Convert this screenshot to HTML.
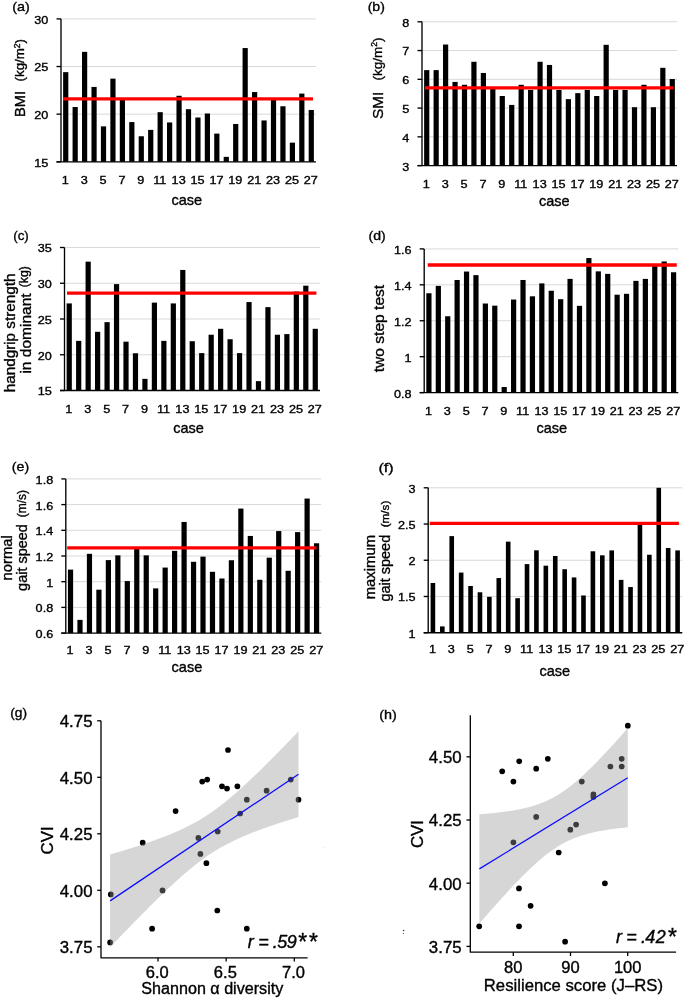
<!DOCTYPE html>
<html><head><meta charset="utf-8"><style>
html,body{margin:0;padding:0;background:#fff;}
body{width:685px;height:999px;overflow:hidden;}
svg{display:block;}
text{font-family:"Liberation Sans", sans-serif;fill:#000;stroke:#000;stroke-width:0.35px;}
.t{filter:grayscale(1);}
</style></head><body>
<svg width="685" height="999" viewBox="0 0 685 999">
<rect width="685" height="999" fill="#fff"/>
<g>
<line x1="61" y1="114.17" x2="316" y2="114.17" stroke="#d9d9d9" stroke-width="1"/>
<line x1="61" y1="66.53" x2="316" y2="66.53" stroke="#d9d9d9" stroke-width="1"/>
<line x1="61" y1="18.9" x2="316" y2="18.9" stroke="#d9d9d9" stroke-width="1"/>
<rect x="63.12" y="72.15" width="5.2" height="89.65" fill="#000"/>
<rect x="72.57" y="107.02" width="5.2" height="54.78" fill="#000"/>
<rect x="82.01" y="51.86" width="5.2" height="109.94" fill="#000"/>
<rect x="91.46" y="86.92" width="5.2" height="74.88" fill="#000"/>
<rect x="100.9" y="126.36" width="5.2" height="35.44" fill="#000"/>
<rect x="110.34" y="78.63" width="5.2" height="83.17" fill="#000"/>
<rect x="119.79" y="99.78" width="5.2" height="62.02" fill="#000"/>
<rect x="129.23" y="122.07" width="5.2" height="39.73" fill="#000"/>
<rect x="138.68" y="136.27" width="5.2" height="25.53" fill="#000"/>
<rect x="148.12" y="129.89" width="5.2" height="31.91" fill="#000"/>
<rect x="157.57" y="112.17" width="5.2" height="49.63" fill="#000"/>
<rect x="167.01" y="122.45" width="5.2" height="39.35" fill="#000"/>
<rect x="176.46" y="95.78" width="5.2" height="66.02" fill="#000"/>
<rect x="185.9" y="109.21" width="5.2" height="52.59" fill="#000"/>
<rect x="195.34" y="117.5" width="5.2" height="44.3" fill="#000"/>
<rect x="204.79" y="113.5" width="5.2" height="48.3" fill="#000"/>
<rect x="214.23" y="133.6" width="5.2" height="28.2" fill="#000"/>
<rect x="223.68" y="156.85" width="5.2" height="4.95" fill="#000"/>
<rect x="233.12" y="123.98" width="5.2" height="37.82" fill="#000"/>
<rect x="242.57" y="48.05" width="5.2" height="113.75" fill="#000"/>
<rect x="252.01" y="92.06" width="5.2" height="69.74" fill="#000"/>
<rect x="261.46" y="120.45" width="5.2" height="41.35" fill="#000"/>
<rect x="270.9" y="99.69" width="5.2" height="62.11" fill="#000"/>
<rect x="280.34" y="106.26" width="5.2" height="55.54" fill="#000"/>
<rect x="289.79" y="142.65" width="5.2" height="19.15" fill="#000"/>
<rect x="299.23" y="93.59" width="5.2" height="68.21" fill="#000"/>
<rect x="308.68" y="109.97" width="5.2" height="51.83" fill="#000"/>
<line x1="61" y1="18.9" x2="61" y2="161.8" stroke="#000" stroke-width="1.35"/>
<line x1="56.5" y1="161.8" x2="316" y2="161.8" stroke="#000" stroke-width="1.35"/>
<line x1="56.5" y1="161.8" x2="61" y2="161.8" stroke="#000" stroke-width="1.35"/>
<line x1="56.5" y1="114.17" x2="61" y2="114.17" stroke="#000" stroke-width="1.35"/>
<line x1="56.5" y1="66.53" x2="61" y2="66.53" stroke="#000" stroke-width="1.35"/>
<line x1="56.5" y1="18.9" x2="61" y2="18.9" stroke="#000" stroke-width="1.35"/>
<line x1="63" y1="98.9" x2="313" y2="98.9" stroke="#ff0000" stroke-width="3.3"/>
</g>
<g>
<line x1="422" y1="136.84" x2="677" y2="136.84" stroke="#d9d9d9" stroke-width="1"/>
<line x1="422" y1="108.08" x2="677" y2="108.08" stroke="#d9d9d9" stroke-width="1"/>
<line x1="422" y1="79.32" x2="677" y2="79.32" stroke="#d9d9d9" stroke-width="1"/>
<line x1="422" y1="50.56" x2="677" y2="50.56" stroke="#d9d9d9" stroke-width="1"/>
<line x1="422" y1="21.8" x2="677" y2="21.8" stroke="#d9d9d9" stroke-width="1"/>
<rect x="424.12" y="70.12" width="5.2" height="95.48" fill="#000"/>
<rect x="433.57" y="70.12" width="5.2" height="95.48" fill="#000"/>
<rect x="443.01" y="44.52" width="5.2" height="121.08" fill="#000"/>
<rect x="452.46" y="81.91" width="5.2" height="83.69" fill="#000"/>
<rect x="461.9" y="84.78" width="5.2" height="80.82" fill="#000"/>
<rect x="471.34" y="61.78" width="5.2" height="103.82" fill="#000"/>
<rect x="480.79" y="72.99" width="5.2" height="92.61" fill="#000"/>
<rect x="490.23" y="88.52" width="5.2" height="77.08" fill="#000"/>
<rect x="499.68" y="96" width="5.2" height="69.6" fill="#000"/>
<rect x="509.12" y="104.92" width="5.2" height="60.68" fill="#000"/>
<rect x="518.57" y="84.78" width="5.2" height="80.82" fill="#000"/>
<rect x="528.01" y="89.96" width="5.2" height="75.64" fill="#000"/>
<rect x="537.46" y="61.78" width="5.2" height="103.82" fill="#000"/>
<rect x="546.9" y="64.94" width="5.2" height="100.66" fill="#000"/>
<rect x="556.34" y="89.96" width="5.2" height="75.64" fill="#000"/>
<rect x="565.79" y="99.16" width="5.2" height="66.44" fill="#000"/>
<rect x="575.23" y="93.12" width="5.2" height="72.48" fill="#000"/>
<rect x="584.68" y="89.96" width="5.2" height="75.64" fill="#000"/>
<rect x="594.12" y="96" width="5.2" height="69.6" fill="#000"/>
<rect x="603.57" y="44.81" width="5.2" height="120.79" fill="#000"/>
<rect x="613.01" y="89.96" width="5.2" height="75.64" fill="#000"/>
<rect x="622.46" y="89.96" width="5.2" height="75.64" fill="#000"/>
<rect x="631.9" y="107.22" width="5.2" height="58.38" fill="#000"/>
<rect x="641.34" y="84.78" width="5.2" height="80.82" fill="#000"/>
<rect x="650.79" y="107.22" width="5.2" height="58.38" fill="#000"/>
<rect x="660.23" y="67.82" width="5.2" height="97.78" fill="#000"/>
<rect x="669.68" y="79.03" width="5.2" height="86.57" fill="#000"/>
<line x1="422" y1="21.8" x2="422" y2="165.6" stroke="#000" stroke-width="1.35"/>
<line x1="417.5" y1="165.6" x2="677" y2="165.6" stroke="#000" stroke-width="1.35"/>
<line x1="417.5" y1="165.6" x2="422" y2="165.6" stroke="#000" stroke-width="1.35"/>
<line x1="417.5" y1="136.84" x2="422" y2="136.84" stroke="#000" stroke-width="1.35"/>
<line x1="417.5" y1="108.08" x2="422" y2="108.08" stroke="#000" stroke-width="1.35"/>
<line x1="417.5" y1="79.32" x2="422" y2="79.32" stroke="#000" stroke-width="1.35"/>
<line x1="417.5" y1="50.56" x2="422" y2="50.56" stroke="#000" stroke-width="1.35"/>
<line x1="417.5" y1="21.8" x2="422" y2="21.8" stroke="#000" stroke-width="1.35"/>
<line x1="425" y1="87.8" x2="673.5" y2="87.8" stroke="#ff0000" stroke-width="3.3"/>
</g>
<g>
<line x1="64.5" y1="354.75" x2="320" y2="354.75" stroke="#d9d9d9" stroke-width="1"/>
<line x1="64.5" y1="319" x2="320" y2="319" stroke="#d9d9d9" stroke-width="1"/>
<line x1="64.5" y1="283.25" x2="320" y2="283.25" stroke="#d9d9d9" stroke-width="1"/>
<line x1="64.5" y1="247.5" x2="320" y2="247.5" stroke="#d9d9d9" stroke-width="1"/>
<rect x="66.63" y="303.41" width="5.2" height="87.09" fill="#000"/>
<rect x="76.09" y="340.88" width="5.2" height="49.62" fill="#000"/>
<rect x="85.56" y="261.66" width="5.2" height="128.84" fill="#000"/>
<rect x="95.02" y="331.8" width="5.2" height="58.7" fill="#000"/>
<rect x="104.48" y="322.15" width="5.2" height="68.35" fill="#000"/>
<rect x="113.95" y="284.11" width="5.2" height="106.39" fill="#000"/>
<rect x="123.41" y="341.67" width="5.2" height="48.83" fill="#000"/>
<rect x="132.87" y="353.25" width="5.2" height="37.25" fill="#000"/>
<rect x="142.34" y="378.85" width="5.2" height="11.65" fill="#000"/>
<rect x="151.8" y="302.63" width="5.2" height="87.87" fill="#000"/>
<rect x="161.26" y="340.88" width="5.2" height="49.62" fill="#000"/>
<rect x="170.72" y="303.41" width="5.2" height="87.09" fill="#000"/>
<rect x="180.19" y="269.95" width="5.2" height="120.55" fill="#000"/>
<rect x="189.65" y="341.24" width="5.2" height="49.26" fill="#000"/>
<rect x="199.11" y="353.11" width="5.2" height="37.39" fill="#000"/>
<rect x="208.58" y="334.73" width="5.2" height="55.77" fill="#000"/>
<rect x="218.04" y="328.8" width="5.2" height="61.7" fill="#000"/>
<rect x="227.5" y="339.23" width="5.2" height="51.27" fill="#000"/>
<rect x="236.96" y="353.11" width="5.2" height="37.39" fill="#000"/>
<rect x="246.43" y="302.05" width="5.2" height="88.45" fill="#000"/>
<rect x="255.89" y="381.13" width="5.2" height="9.37" fill="#000"/>
<rect x="265.35" y="307.13" width="5.2" height="83.37" fill="#000"/>
<rect x="274.82" y="334.73" width="5.2" height="55.77" fill="#000"/>
<rect x="284.28" y="334.09" width="5.2" height="56.41" fill="#000"/>
<rect x="293.74" y="291.62" width="5.2" height="98.88" fill="#000"/>
<rect x="303.21" y="285.68" width="5.2" height="104.82" fill="#000"/>
<rect x="312.67" y="328.8" width="5.2" height="61.7" fill="#000"/>
<line x1="64.5" y1="247.5" x2="64.5" y2="390.5" stroke="#000" stroke-width="1.35"/>
<line x1="60" y1="390.5" x2="320" y2="390.5" stroke="#000" stroke-width="1.35"/>
<line x1="60" y1="390.5" x2="64.5" y2="390.5" stroke="#000" stroke-width="1.35"/>
<line x1="60" y1="354.75" x2="64.5" y2="354.75" stroke="#000" stroke-width="1.35"/>
<line x1="60" y1="319" x2="64.5" y2="319" stroke="#000" stroke-width="1.35"/>
<line x1="60" y1="283.25" x2="64.5" y2="283.25" stroke="#000" stroke-width="1.35"/>
<line x1="60" y1="247.5" x2="64.5" y2="247.5" stroke="#000" stroke-width="1.35"/>
<line x1="67" y1="293.2" x2="316.4" y2="293.2" stroke="#ff0000" stroke-width="3.3"/>
</g>
<g>
<line x1="424.2" y1="356.68" x2="678.3" y2="356.68" stroke="#d9d9d9" stroke-width="1"/>
<line x1="424.2" y1="320.75" x2="678.3" y2="320.75" stroke="#d9d9d9" stroke-width="1"/>
<line x1="424.2" y1="284.83" x2="678.3" y2="284.83" stroke="#d9d9d9" stroke-width="1"/>
<line x1="424.2" y1="248.9" x2="678.3" y2="248.9" stroke="#d9d9d9" stroke-width="1"/>
<rect x="426.31" y="293.27" width="5.2" height="99.33" fill="#000"/>
<rect x="435.72" y="285.9" width="5.2" height="106.7" fill="#000"/>
<rect x="445.13" y="316.26" width="5.2" height="76.34" fill="#000"/>
<rect x="454.54" y="279.98" width="5.2" height="112.62" fill="#000"/>
<rect x="463.95" y="271.53" width="5.2" height="121.07" fill="#000"/>
<rect x="473.36" y="275.13" width="5.2" height="117.47" fill="#000"/>
<rect x="482.77" y="303.51" width="5.2" height="89.09" fill="#000"/>
<rect x="492.18" y="305.66" width="5.2" height="86.94" fill="#000"/>
<rect x="501.59" y="387.03" width="5.2" height="5.57" fill="#000"/>
<rect x="511.01" y="299.55" width="5.2" height="93.05" fill="#000"/>
<rect x="520.42" y="279.98" width="5.2" height="112.62" fill="#000"/>
<rect x="529.83" y="296.32" width="5.2" height="96.28" fill="#000"/>
<rect x="539.24" y="283.39" width="5.2" height="109.21" fill="#000"/>
<rect x="548.65" y="290.75" width="5.2" height="101.85" fill="#000"/>
<rect x="558.06" y="299.19" width="5.2" height="93.41" fill="#000"/>
<rect x="567.47" y="278.9" width="5.2" height="113.7" fill="#000"/>
<rect x="576.88" y="305.84" width="5.2" height="86.76" fill="#000"/>
<rect x="586.29" y="258.06" width="5.2" height="134.54" fill="#000"/>
<rect x="595.71" y="271.35" width="5.2" height="121.25" fill="#000"/>
<rect x="605.12" y="273.87" width="5.2" height="118.73" fill="#000"/>
<rect x="614.53" y="294.7" width="5.2" height="97.9" fill="#000"/>
<rect x="623.94" y="293.81" width="5.2" height="98.79" fill="#000"/>
<rect x="633.35" y="280.87" width="5.2" height="111.73" fill="#000"/>
<rect x="642.76" y="278.9" width="5.2" height="113.7" fill="#000"/>
<rect x="652.17" y="263.99" width="5.2" height="128.61" fill="#000"/>
<rect x="661.58" y="261.47" width="5.2" height="131.13" fill="#000"/>
<rect x="670.99" y="272.25" width="5.2" height="120.35" fill="#000"/>
<line x1="424.2" y1="248.9" x2="424.2" y2="392.6" stroke="#000" stroke-width="1.35"/>
<line x1="419.7" y1="392.6" x2="678.3" y2="392.6" stroke="#000" stroke-width="1.35"/>
<line x1="419.7" y1="392.6" x2="424.2" y2="392.6" stroke="#000" stroke-width="1.35"/>
<line x1="419.7" y1="356.68" x2="424.2" y2="356.68" stroke="#000" stroke-width="1.35"/>
<line x1="419.7" y1="320.75" x2="424.2" y2="320.75" stroke="#000" stroke-width="1.35"/>
<line x1="419.7" y1="284.83" x2="424.2" y2="284.83" stroke="#000" stroke-width="1.35"/>
<line x1="419.7" y1="248.9" x2="424.2" y2="248.9" stroke="#000" stroke-width="1.35"/>
<line x1="427.7" y1="265" x2="676.8" y2="265" stroke="#ff0000" stroke-width="3.3"/>
</g>
<g>
<line x1="65.8" y1="607.4" x2="321.3" y2="607.4" stroke="#d9d9d9" stroke-width="1"/>
<line x1="65.8" y1="581.7" x2="321.3" y2="581.7" stroke="#d9d9d9" stroke-width="1"/>
<line x1="65.8" y1="556" x2="321.3" y2="556" stroke="#d9d9d9" stroke-width="1"/>
<line x1="65.8" y1="530.3" x2="321.3" y2="530.3" stroke="#d9d9d9" stroke-width="1"/>
<line x1="65.8" y1="504.6" x2="321.3" y2="504.6" stroke="#d9d9d9" stroke-width="1"/>
<line x1="65.8" y1="478.9" x2="321.3" y2="478.9" stroke="#d9d9d9" stroke-width="1"/>
<rect x="67.93" y="569.62" width="5.2" height="63.48" fill="#000"/>
<rect x="77.39" y="619.86" width="5.2" height="13.24" fill="#000"/>
<rect x="86.86" y="553.82" width="5.2" height="79.28" fill="#000"/>
<rect x="96.32" y="589.67" width="5.2" height="43.43" fill="#000"/>
<rect x="105.78" y="560.11" width="5.2" height="72.99" fill="#000"/>
<rect x="115.25" y="555.36" width="5.2" height="77.74" fill="#000"/>
<rect x="124.71" y="581.06" width="5.2" height="52.04" fill="#000"/>
<rect x="134.17" y="548.93" width="5.2" height="84.17" fill="#000"/>
<rect x="143.64" y="555.36" width="5.2" height="77.74" fill="#000"/>
<rect x="153.1" y="588.38" width="5.2" height="44.72" fill="#000"/>
<rect x="162.56" y="567.57" width="5.2" height="65.53" fill="#000"/>
<rect x="172.02" y="550.86" width="5.2" height="82.24" fill="#000"/>
<rect x="181.49" y="521.95" width="5.2" height="111.15" fill="#000"/>
<rect x="190.95" y="561.78" width="5.2" height="71.32" fill="#000"/>
<rect x="200.41" y="556.64" width="5.2" height="76.46" fill="#000"/>
<rect x="209.88" y="571.81" width="5.2" height="61.29" fill="#000"/>
<rect x="219.34" y="578.49" width="5.2" height="54.61" fill="#000"/>
<rect x="228.8" y="560.24" width="5.2" height="72.86" fill="#000"/>
<rect x="238.26" y="508.58" width="5.2" height="124.52" fill="#000"/>
<rect x="247.73" y="535.95" width="5.2" height="97.15" fill="#000"/>
<rect x="257.19" y="579.77" width="5.2" height="53.33" fill="#000"/>
<rect x="266.65" y="557.67" width="5.2" height="75.43" fill="#000"/>
<rect x="276.12" y="531.07" width="5.2" height="102.03" fill="#000"/>
<rect x="285.58" y="570.78" width="5.2" height="62.32" fill="#000"/>
<rect x="295.04" y="532.1" width="5.2" height="101" fill="#000"/>
<rect x="304.51" y="498.56" width="5.2" height="134.54" fill="#000"/>
<rect x="313.97" y="543.28" width="5.2" height="89.82" fill="#000"/>
<line x1="65.8" y1="478.9" x2="65.8" y2="633.1" stroke="#000" stroke-width="1.35"/>
<line x1="61.3" y1="633.1" x2="321.3" y2="633.1" stroke="#000" stroke-width="1.35"/>
<line x1="61.3" y1="633.1" x2="65.8" y2="633.1" stroke="#000" stroke-width="1.35"/>
<line x1="61.3" y1="607.4" x2="65.8" y2="607.4" stroke="#000" stroke-width="1.35"/>
<line x1="61.3" y1="581.7" x2="65.8" y2="581.7" stroke="#000" stroke-width="1.35"/>
<line x1="61.3" y1="556" x2="65.8" y2="556" stroke="#000" stroke-width="1.35"/>
<line x1="61.3" y1="530.3" x2="65.8" y2="530.3" stroke="#000" stroke-width="1.35"/>
<line x1="61.3" y1="504.6" x2="65.8" y2="504.6" stroke="#000" stroke-width="1.35"/>
<line x1="61.3" y1="478.9" x2="65.8" y2="478.9" stroke="#000" stroke-width="1.35"/>
<line x1="67.2" y1="547.8" x2="316.4" y2="547.8" stroke="#ff0000" stroke-width="3.3"/>
</g>
<g>
<line x1="428.2" y1="596.48" x2="682.3" y2="596.48" stroke="#d9d9d9" stroke-width="1"/>
<line x1="428.2" y1="560.25" x2="682.3" y2="560.25" stroke="#d9d9d9" stroke-width="1"/>
<line x1="428.2" y1="524.02" x2="682.3" y2="524.02" stroke="#d9d9d9" stroke-width="1"/>
<line x1="428.2" y1="487.8" x2="682.3" y2="487.8" stroke="#d9d9d9" stroke-width="1"/>
<rect x="430.61" y="583" width="4.6" height="49.7" fill="#000"/>
<rect x="440.02" y="626.4" width="4.6" height="6.3" fill="#000"/>
<rect x="449.43" y="536.12" width="4.6" height="96.58" fill="#000"/>
<rect x="458.84" y="572.57" width="4.6" height="60.13" fill="#000"/>
<rect x="468.25" y="585.97" width="4.6" height="46.73" fill="#000"/>
<rect x="477.66" y="592.27" width="4.6" height="40.43" fill="#000"/>
<rect x="487.07" y="596.84" width="4.6" height="35.86" fill="#000"/>
<rect x="496.48" y="578.07" width="4.6" height="54.63" fill="#000"/>
<rect x="505.89" y="541.63" width="4.6" height="91.07" fill="#000"/>
<rect x="515.31" y="598.21" width="4.6" height="34.49" fill="#000"/>
<rect x="524.72" y="564.09" width="4.6" height="68.61" fill="#000"/>
<rect x="534.13" y="550.32" width="4.6" height="82.38" fill="#000"/>
<rect x="543.54" y="565.68" width="4.6" height="67.02" fill="#000"/>
<rect x="552.95" y="555.98" width="4.6" height="76.72" fill="#000"/>
<rect x="562.36" y="569.23" width="4.6" height="63.47" fill="#000"/>
<rect x="571.77" y="577.42" width="4.6" height="55.28" fill="#000"/>
<rect x="581.18" y="595.46" width="4.6" height="37.24" fill="#000"/>
<rect x="590.59" y="551.27" width="4.6" height="81.43" fill="#000"/>
<rect x="600.01" y="555.32" width="4.6" height="77.38" fill="#000"/>
<rect x="609.42" y="550.4" width="4.6" height="82.3" fill="#000"/>
<rect x="618.83" y="579.88" width="4.6" height="52.82" fill="#000"/>
<rect x="628.24" y="587.06" width="4.6" height="45.64" fill="#000"/>
<rect x="637.65" y="523.81" width="4.6" height="108.89" fill="#000"/>
<rect x="647.06" y="554.74" width="4.6" height="77.96" fill="#000"/>
<rect x="656.47" y="487.8" width="4.6" height="144.9" fill="#000"/>
<rect x="665.88" y="548.01" width="4.6" height="84.69" fill="#000"/>
<rect x="675.29" y="550.4" width="4.6" height="82.3" fill="#000"/>
<line x1="428.2" y1="487.8" x2="428.2" y2="632.7" stroke="#000" stroke-width="1.35"/>
<line x1="423.7" y1="632.7" x2="682.3" y2="632.7" stroke="#000" stroke-width="1.35"/>
<line x1="423.7" y1="632.7" x2="428.2" y2="632.7" stroke="#000" stroke-width="1.35"/>
<line x1="423.7" y1="596.48" x2="428.2" y2="596.48" stroke="#000" stroke-width="1.35"/>
<line x1="423.7" y1="560.25" x2="428.2" y2="560.25" stroke="#000" stroke-width="1.35"/>
<line x1="423.7" y1="524.02" x2="428.2" y2="524.02" stroke="#000" stroke-width="1.35"/>
<line x1="423.7" y1="487.8" x2="428.2" y2="487.8" stroke="#000" stroke-width="1.35"/>
<line x1="429.8" y1="523.3" x2="678.9" y2="523.3" stroke="#ff0000" stroke-width="3.3"/>
</g>
<circle cx="142.7" cy="842.7" r="2.85" fill="#000"/>
<circle cx="175.6" cy="811.1" r="2.85" fill="#000"/>
<circle cx="198.35" cy="837.9" r="2.85" fill="#000"/>
<circle cx="200.4" cy="853.9" r="2.85" fill="#000"/>
<circle cx="206.4" cy="863.2" r="2.85" fill="#000"/>
<circle cx="202.2" cy="781.6" r="2.85" fill="#000"/>
<circle cx="207.2" cy="779.6" r="2.85" fill="#000"/>
<circle cx="217.7" cy="831.5" r="2.85" fill="#000"/>
<circle cx="222" cy="786.3" r="2.85" fill="#000"/>
<circle cx="227" cy="788.6" r="2.85" fill="#000"/>
<circle cx="228" cy="750" r="2.85" fill="#000"/>
<circle cx="237.4" cy="786.3" r="2.85" fill="#000"/>
<circle cx="240.1" cy="813.5" r="2.85" fill="#000"/>
<circle cx="246.8" cy="799.7" r="2.85" fill="#000"/>
<circle cx="266.6" cy="790.7" r="2.85" fill="#000"/>
<circle cx="290.8" cy="779.6" r="2.85" fill="#000"/>
<circle cx="298.5" cy="799.7" r="2.85" fill="#000"/>
<circle cx="110.8" cy="894.4" r="2.85" fill="#000"/>
<circle cx="110.1" cy="942.4" r="2.85" fill="#000"/>
<circle cx="152.1" cy="928.7" r="2.85" fill="#000"/>
<circle cx="162.5" cy="890.4" r="2.85" fill="#000"/>
<circle cx="217.3" cy="910.5" r="2.85" fill="#000"/>
<circle cx="246.8" cy="928.7" r="2.85" fill="#000"/>
<polygon points="110.1,854.47 112.48,853.77 114.87,853.06 117.25,852.35 119.64,851.63 122.02,850.91 124.41,850.18 126.79,849.44 129.18,848.7 131.56,847.95 133.95,847.2 136.33,846.43 138.72,845.66 141.1,844.88 143.49,844.09 145.87,843.29 148.26,842.47 150.64,841.65 153.03,840.81 155.41,839.96 157.8,839.09 160.18,838.21 162.57,837.31 164.95,836.39 167.34,835.46 169.72,834.5 172.11,833.51 174.49,832.51 176.87,831.47 179.26,830.41 181.64,829.31 184.03,828.19 186.41,827.03 188.8,825.83 191.18,824.59 193.57,823.31 195.95,821.99 198.34,820.63 200.72,819.22 203.11,817.76 205.49,816.25 207.88,814.7 210.26,813.1 212.65,811.44 215.03,809.74 217.42,807.99 219.8,806.19 222.19,804.35 224.57,802.46 226.96,800.53 229.34,798.56 231.73,796.55 234.11,794.5 236.49,792.42 238.88,790.31 241.26,788.16 243.65,785.99 246.03,783.79 248.42,781.57 250.8,779.32 253.19,777.05 255.57,774.76 257.96,772.45 260.34,770.13 262.73,767.79 265.11,765.43 267.5,763.06 269.88,760.68 272.27,758.29 274.65,755.88 277.04,753.47 279.42,751.04 281.81,748.61 284.19,746.16 286.58,743.71 288.96,741.26 291.35,738.79 293.73,736.32 296.12,733.84 298.5,731.36 298.5,817.12 296.12,817.84 293.73,818.57 291.35,819.31 288.96,820.05 286.58,820.8 284.19,821.55 281.81,822.31 279.42,823.09 277.04,823.87 274.65,824.66 272.27,825.46 269.88,826.27 267.5,827.09 265.11,827.93 262.73,828.78 260.34,829.65 257.96,830.53 255.57,831.43 253.19,832.35 250.8,833.28 248.42,834.24 246.03,835.22 243.65,836.23 241.26,837.26 238.88,838.33 236.49,839.42 234.11,840.54 231.73,841.7 229.34,842.9 226.96,844.13 224.57,845.41 222.19,846.73 219.8,848.09 217.42,849.5 215.03,850.95 212.65,852.46 210.26,854.01 207.88,855.61 205.49,857.26 203.11,858.96 200.72,860.71 198.34,862.51 195.95,864.35 193.57,866.24 191.18,868.16 188.8,870.13 186.41,872.14 184.03,874.19 181.64,876.27 179.26,878.38 176.87,880.52 174.49,882.69 172.11,884.89 169.72,887.11 167.34,889.36 164.95,891.63 162.57,893.92 160.18,896.22 157.8,898.55 155.41,900.89 153.03,903.24 150.64,905.61 148.26,907.99 145.87,910.39 143.49,912.79 141.1,915.21 138.72,917.63 136.33,920.06 133.95,922.51 131.56,924.96 129.18,927.41 126.79,929.88 124.41,932.35 122.02,934.83 119.64,937.31 117.25,939.8 114.87,942.29 112.48,944.79 110.1,947.29" fill="#999" fill-opacity="0.4"/>
<line x1="110.1" y1="900.88" x2="298.5" y2="774.24" stroke="#0a0aff" stroke-width="1.25"/>
<path d="M101 720.8 V957.8 H307.6" fill="none" stroke="#000" stroke-width="1.3" stroke-linejoin="round"/>
<line x1="97.2" y1="720.8" x2="101" y2="720.8" stroke="#000" stroke-width="1.3"/>
<line x1="97.2" y1="777.3" x2="101" y2="777.3" stroke="#000" stroke-width="1.3"/>
<line x1="97.2" y1="833.8" x2="101" y2="833.8" stroke="#000" stroke-width="1.3"/>
<line x1="97.2" y1="890.3" x2="101" y2="890.3" stroke="#000" stroke-width="1.3"/>
<line x1="97.2" y1="946.8" x2="101" y2="946.8" stroke="#000" stroke-width="1.3"/>
<line x1="158" y1="957.8" x2="158" y2="961.6" stroke="#000" stroke-width="1.3"/>
<line x1="226.15" y1="957.8" x2="226.15" y2="961.6" stroke="#000" stroke-width="1.3"/>
<line x1="294.3" y1="957.8" x2="294.3" y2="961.6" stroke="#000" stroke-width="1.3"/>
<circle cx="502.2" cy="771.3" r="2.85" fill="#000"/>
<circle cx="513.4" cy="781.6" r="2.85" fill="#000"/>
<circle cx="519.2" cy="761.3" r="2.85" fill="#000"/>
<circle cx="536.2" cy="768.7" r="2.85" fill="#000"/>
<circle cx="547.8" cy="758.8" r="2.85" fill="#000"/>
<circle cx="513.4" cy="842.3" r="2.85" fill="#000"/>
<circle cx="536.2" cy="816.9" r="2.85" fill="#000"/>
<circle cx="558.7" cy="852.5" r="2.85" fill="#000"/>
<circle cx="570.3" cy="829.7" r="2.85" fill="#000"/>
<circle cx="576.1" cy="824.6" r="2.85" fill="#000"/>
<circle cx="581.8" cy="781.6" r="2.85" fill="#000"/>
<circle cx="593.4" cy="794.4" r="2.85" fill="#000"/>
<circle cx="593.4" cy="797" r="2.85" fill="#000"/>
<circle cx="610.4" cy="766.5" r="2.85" fill="#000"/>
<circle cx="621.7" cy="758.8" r="2.85" fill="#000"/>
<circle cx="621.7" cy="766.5" r="2.85" fill="#000"/>
<circle cx="627.8" cy="725.7" r="2.85" fill="#000"/>
<circle cx="479.2" cy="926.3" r="2.85" fill="#000"/>
<circle cx="519" cy="888.4" r="2.85" fill="#000"/>
<circle cx="530.6" cy="905.8" r="2.85" fill="#000"/>
<circle cx="519" cy="926.3" r="2.85" fill="#000"/>
<circle cx="604.9" cy="883.3" r="2.85" fill="#000"/>
<circle cx="565.1" cy="941.7" r="2.85" fill="#000"/>
<polygon points="479.4,814.31 481.28,814.16 483.16,814.01 485.04,813.85 486.91,813.69 488.79,813.52 490.67,813.34 492.55,813.15 494.43,812.96 496.31,812.75 498.18,812.54 500.06,812.32 501.94,812.09 503.82,811.84 505.7,811.59 507.58,811.32 509.46,811.04 511.33,810.74 513.21,810.43 515.09,810.11 516.97,809.76 518.85,809.4 520.73,809.02 522.61,808.61 524.48,808.19 526.36,807.74 528.24,807.26 530.12,806.76 532,806.22 533.88,805.66 535.75,805.06 537.63,804.43 539.51,803.76 541.39,803.05 543.27,802.3 545.15,801.51 547.03,800.68 548.9,799.8 550.78,798.87 552.66,797.89 554.54,796.86 556.42,795.79 558.3,794.66 560.17,793.48 562.05,792.25 563.93,790.98 565.81,789.65 567.69,788.27 569.57,786.85 571.45,785.38 573.32,783.86 575.2,782.31 577.08,780.71 578.96,779.07 580.84,777.4 582.72,775.69 584.59,773.95 586.47,772.18 588.35,770.37 590.23,768.54 592.11,766.69 593.99,764.81 595.87,762.91 597.74,760.98 599.62,759.04 601.5,757.08 603.38,755.1 605.26,753.1 607.14,751.09 609.02,749.07 610.89,747.03 612.77,744.98 614.65,742.91 616.53,740.84 618.41,738.75 620.29,736.66 622.16,734.56 624.04,732.44 625.92,730.32 627.8,728.2 627.8,827.36 625.92,827.54 624.04,827.72 622.16,827.92 620.29,828.12 618.41,828.34 616.53,828.56 614.65,828.79 612.77,829.03 610.89,829.29 609.02,829.56 607.14,829.84 605.26,830.13 603.38,830.45 601.5,830.77 599.62,831.12 597.74,831.48 595.87,831.86 593.99,832.27 592.11,832.7 590.23,833.15 588.35,833.62 586.47,834.13 584.59,834.66 582.72,835.23 580.84,835.83 578.96,836.46 577.08,837.13 575.2,837.84 573.32,838.59 571.45,839.38 569.57,840.22 567.69,841.1 565.81,842.03 563.93,843.01 562.05,844.04 560.17,845.12 558.3,846.25 556.42,847.42 554.54,848.66 552.66,849.94 550.78,851.27 548.9,852.64 547.03,854.07 545.15,855.54 543.27,857.06 541.39,858.61 539.51,860.21 537.63,861.85 535.75,863.53 533.88,865.23 532,866.98 530.12,868.75 528.24,870.55 526.36,872.38 524.48,874.24 522.61,876.12 520.73,878.02 518.85,879.95 516.97,881.89 515.09,883.85 513.21,885.83 511.33,887.83 509.46,889.84 507.58,891.87 505.7,893.91 503.82,895.96 501.94,898.02 500.06,900.1 498.18,902.18 496.31,904.28 494.43,906.38 492.55,908.49 490.67,910.61 488.79,912.74 486.91,914.88 485.04,917.02 483.16,919.16 481.28,921.32 479.4,923.48" fill="#999" fill-opacity="0.4"/>
<line x1="479.4" y1="868.9" x2="627.8" y2="777.78" stroke="#0a0aff" stroke-width="1.25"/>
<path d="M470.3 715.3 V952.2 H676.1" fill="none" stroke="#000" stroke-width="1.3" stroke-linejoin="round"/>
<line x1="466.5" y1="756.8" x2="470.3" y2="756.8" stroke="#000" stroke-width="1.3"/>
<line x1="466.5" y1="820" x2="470.3" y2="820" stroke="#000" stroke-width="1.3"/>
<line x1="466.5" y1="883.2" x2="470.3" y2="883.2" stroke="#000" stroke-width="1.3"/>
<line x1="466.5" y1="946.4" x2="470.3" y2="946.4" stroke="#000" stroke-width="1.3"/>
<line x1="513.3" y1="952.2" x2="513.3" y2="956" stroke="#000" stroke-width="1.3"/>
<line x1="570.5" y1="952.2" x2="570.5" y2="956" stroke="#000" stroke-width="1.3"/>
<line x1="627.7" y1="952.2" x2="627.7" y2="956" stroke="#000" stroke-width="1.3"/>
<circle cx="403.6" cy="930.6" r="0.75" fill="#333"/>
<circle cx="403.5" cy="933.5" r="0.6" fill="#555"/>
<circle cx="324" cy="847.4" r="0.9" fill="#eee"/>
<g class="t">
<text transform="translate(48.4 166.7) scale(1.1 1)" font-size="11.5" text-anchor="end">15</text>
<text transform="translate(48.4 119.07) scale(1.1 1)" font-size="11.5" text-anchor="end">20</text>
<text transform="translate(48.4 71.43) scale(1.1 1)" font-size="11.5" text-anchor="end">25</text>
<text transform="translate(48.4 23.8) scale(1.1 1)" font-size="11.5" text-anchor="end">30</text>
<text transform="translate(65.32 183.9) scale(1.15 1)" font-size="11" text-anchor="middle">1</text>
<text transform="translate(84.21 183.9) scale(1.15 1)" font-size="11" text-anchor="middle">3</text>
<text transform="translate(103.1 183.9) scale(1.15 1)" font-size="11" text-anchor="middle">5</text>
<text transform="translate(121.99 183.9) scale(1.15 1)" font-size="11" text-anchor="middle">7</text>
<text transform="translate(140.88 183.9) scale(1.15 1)" font-size="11" text-anchor="middle">9</text>
<text transform="translate(159.77 183.9) scale(1.15 1)" font-size="11" text-anchor="middle">11</text>
<text transform="translate(178.66 183.9) scale(1.15 1)" font-size="11" text-anchor="middle">13</text>
<text transform="translate(197.54 183.9) scale(1.15 1)" font-size="11" text-anchor="middle">15</text>
<text transform="translate(216.43 183.9) scale(1.15 1)" font-size="11" text-anchor="middle">17</text>
<text transform="translate(235.32 183.9) scale(1.15 1)" font-size="11" text-anchor="middle">19</text>
<text transform="translate(254.21 183.9) scale(1.15 1)" font-size="11" text-anchor="middle">21</text>
<text transform="translate(273.1 183.9) scale(1.15 1)" font-size="11" text-anchor="middle">23</text>
<text transform="translate(291.99 183.9) scale(1.15 1)" font-size="11" text-anchor="middle">25</text>
<text transform="translate(310.88 183.9) scale(1.15 1)" font-size="11" text-anchor="middle">27</text>
<text x="186.8" y="204.7" font-size="14.5" text-anchor="middle">case</text>
<text x="12.2" y="10.8" font-size="13" textLength="17.6" lengthAdjust="spacingAndGlyphs">(a)</text>
<text transform="translate(409.4 170.5) scale(1.1 1)" font-size="11.5" text-anchor="end">3</text>
<text transform="translate(409.4 141.74) scale(1.1 1)" font-size="11.5" text-anchor="end">4</text>
<text transform="translate(409.4 112.98) scale(1.1 1)" font-size="11.5" text-anchor="end">5</text>
<text transform="translate(409.4 84.22) scale(1.1 1)" font-size="11.5" text-anchor="end">6</text>
<text transform="translate(409.4 55.46) scale(1.1 1)" font-size="11.5" text-anchor="end">7</text>
<text transform="translate(409.4 26.7) scale(1.1 1)" font-size="11.5" text-anchor="end">8</text>
<text transform="translate(426.32 188.1) scale(1.15 1)" font-size="11" text-anchor="middle">1</text>
<text transform="translate(445.21 188.1) scale(1.15 1)" font-size="11" text-anchor="middle">3</text>
<text transform="translate(464.1 188.1) scale(1.15 1)" font-size="11" text-anchor="middle">5</text>
<text transform="translate(482.99 188.1) scale(1.15 1)" font-size="11" text-anchor="middle">7</text>
<text transform="translate(501.88 188.1) scale(1.15 1)" font-size="11" text-anchor="middle">9</text>
<text transform="translate(520.77 188.1) scale(1.15 1)" font-size="11" text-anchor="middle">11</text>
<text transform="translate(539.66 188.1) scale(1.15 1)" font-size="11" text-anchor="middle">13</text>
<text transform="translate(558.54 188.1) scale(1.15 1)" font-size="11" text-anchor="middle">15</text>
<text transform="translate(577.43 188.1) scale(1.15 1)" font-size="11" text-anchor="middle">17</text>
<text transform="translate(596.32 188.1) scale(1.15 1)" font-size="11" text-anchor="middle">19</text>
<text transform="translate(615.21 188.1) scale(1.15 1)" font-size="11" text-anchor="middle">21</text>
<text transform="translate(634.1 188.1) scale(1.15 1)" font-size="11" text-anchor="middle">23</text>
<text transform="translate(652.99 188.1) scale(1.15 1)" font-size="11" text-anchor="middle">25</text>
<text transform="translate(671.88 188.1) scale(1.15 1)" font-size="11" text-anchor="middle">27</text>
<text x="554.2" y="205.5" font-size="14.5" text-anchor="middle">case</text>
<text x="367.7" y="10.8" font-size="13" textLength="17.2" lengthAdjust="spacingAndGlyphs">(b)</text>
<text transform="translate(51.9 395.4) scale(1.1 1)" font-size="11.5" text-anchor="end">15</text>
<text transform="translate(51.9 359.65) scale(1.1 1)" font-size="11.5" text-anchor="end">20</text>
<text transform="translate(51.9 323.9) scale(1.1 1)" font-size="11.5" text-anchor="end">25</text>
<text transform="translate(51.9 288.15) scale(1.1 1)" font-size="11.5" text-anchor="end">30</text>
<text transform="translate(51.9 252.4) scale(1.1 1)" font-size="11.5" text-anchor="end">35</text>
<text transform="translate(68.83 412.9) scale(1.15 1)" font-size="11" text-anchor="middle">1</text>
<text transform="translate(87.76 412.9) scale(1.15 1)" font-size="11" text-anchor="middle">3</text>
<text transform="translate(106.68 412.9) scale(1.15 1)" font-size="11" text-anchor="middle">5</text>
<text transform="translate(125.61 412.9) scale(1.15 1)" font-size="11" text-anchor="middle">7</text>
<text transform="translate(144.54 412.9) scale(1.15 1)" font-size="11" text-anchor="middle">9</text>
<text transform="translate(163.46 412.9) scale(1.15 1)" font-size="11" text-anchor="middle">11</text>
<text transform="translate(182.39 412.9) scale(1.15 1)" font-size="11" text-anchor="middle">13</text>
<text transform="translate(201.31 412.9) scale(1.15 1)" font-size="11" text-anchor="middle">15</text>
<text transform="translate(220.24 412.9) scale(1.15 1)" font-size="11" text-anchor="middle">17</text>
<text transform="translate(239.16 412.9) scale(1.15 1)" font-size="11" text-anchor="middle">19</text>
<text transform="translate(258.09 412.9) scale(1.15 1)" font-size="11" text-anchor="middle">21</text>
<text transform="translate(277.02 412.9) scale(1.15 1)" font-size="11" text-anchor="middle">23</text>
<text transform="translate(295.94 412.9) scale(1.15 1)" font-size="11" text-anchor="middle">25</text>
<text transform="translate(314.87 412.9) scale(1.15 1)" font-size="11" text-anchor="middle">27</text>
<text x="188.6" y="432.6" font-size="14.5" text-anchor="middle">case</text>
<text x="13.2" y="240.4" font-size="13" textLength="15.6" lengthAdjust="spacingAndGlyphs">(c)</text>
<text transform="translate(411.6 397.5) scale(1.1 1)" font-size="11.5" text-anchor="end">0.8</text>
<text transform="translate(411.6 361.57) scale(1.1 1)" font-size="11.5" text-anchor="end">1</text>
<text transform="translate(411.6 325.65) scale(1.1 1)" font-size="11.5" text-anchor="end">1.2</text>
<text transform="translate(411.6 289.73) scale(1.1 1)" font-size="11.5" text-anchor="end">1.4</text>
<text transform="translate(411.6 253.8) scale(1.1 1)" font-size="11.5" text-anchor="end">1.6</text>
<text transform="translate(428.51 414.8) scale(1.15 1)" font-size="11" text-anchor="middle">1</text>
<text transform="translate(447.33 414.8) scale(1.15 1)" font-size="11" text-anchor="middle">3</text>
<text transform="translate(466.15 414.8) scale(1.15 1)" font-size="11" text-anchor="middle">5</text>
<text transform="translate(484.97 414.8) scale(1.15 1)" font-size="11" text-anchor="middle">7</text>
<text transform="translate(503.79 414.8) scale(1.15 1)" font-size="11" text-anchor="middle">9</text>
<text transform="translate(522.62 414.8) scale(1.15 1)" font-size="11" text-anchor="middle">11</text>
<text transform="translate(541.44 414.8) scale(1.15 1)" font-size="11" text-anchor="middle">13</text>
<text transform="translate(560.26 414.8) scale(1.15 1)" font-size="11" text-anchor="middle">15</text>
<text transform="translate(579.08 414.8) scale(1.15 1)" font-size="11" text-anchor="middle">17</text>
<text transform="translate(597.91 414.8) scale(1.15 1)" font-size="11" text-anchor="middle">19</text>
<text transform="translate(616.73 414.8) scale(1.15 1)" font-size="11" text-anchor="middle">21</text>
<text transform="translate(635.55 414.8) scale(1.15 1)" font-size="11" text-anchor="middle">23</text>
<text transform="translate(654.37 414.8) scale(1.15 1)" font-size="11" text-anchor="middle">25</text>
<text transform="translate(673.19 414.8) scale(1.15 1)" font-size="11" text-anchor="middle">27</text>
<text x="551.7" y="432.7" font-size="14.5" text-anchor="middle">case</text>
<text x="368.5" y="240.4" font-size="13" textLength="17.2" lengthAdjust="spacingAndGlyphs">(d)</text>
<text transform="translate(53.2 638) scale(1.1 1)" font-size="11.5" text-anchor="end">0.6</text>
<text transform="translate(53.2 612.3) scale(1.1 1)" font-size="11.5" text-anchor="end">0.8</text>
<text transform="translate(53.2 586.6) scale(1.1 1)" font-size="11.5" text-anchor="end">1</text>
<text transform="translate(53.2 560.9) scale(1.1 1)" font-size="11.5" text-anchor="end">1.2</text>
<text transform="translate(53.2 535.2) scale(1.1 1)" font-size="11.5" text-anchor="end">1.4</text>
<text transform="translate(53.2 509.5) scale(1.1 1)" font-size="11.5" text-anchor="end">1.6</text>
<text transform="translate(53.2 483.8) scale(1.1 1)" font-size="11.5" text-anchor="end">1.8</text>
<text transform="translate(70.13 654) scale(1.15 1)" font-size="11" text-anchor="middle">1</text>
<text transform="translate(89.06 654) scale(1.15 1)" font-size="11" text-anchor="middle">3</text>
<text transform="translate(107.98 654) scale(1.15 1)" font-size="11" text-anchor="middle">5</text>
<text transform="translate(126.91 654) scale(1.15 1)" font-size="11" text-anchor="middle">7</text>
<text transform="translate(145.84 654) scale(1.15 1)" font-size="11" text-anchor="middle">9</text>
<text transform="translate(164.76 654) scale(1.15 1)" font-size="11" text-anchor="middle">11</text>
<text transform="translate(183.69 654) scale(1.15 1)" font-size="11" text-anchor="middle">13</text>
<text transform="translate(202.61 654) scale(1.15 1)" font-size="11" text-anchor="middle">15</text>
<text transform="translate(221.54 654) scale(1.15 1)" font-size="11" text-anchor="middle">17</text>
<text transform="translate(240.46 654) scale(1.15 1)" font-size="11" text-anchor="middle">19</text>
<text transform="translate(259.39 654) scale(1.15 1)" font-size="11" text-anchor="middle">21</text>
<text transform="translate(278.32 654) scale(1.15 1)" font-size="11" text-anchor="middle">23</text>
<text transform="translate(297.24 654) scale(1.15 1)" font-size="11" text-anchor="middle">25</text>
<text transform="translate(316.17 654) scale(1.15 1)" font-size="11" text-anchor="middle">27</text>
<text x="186.9" y="672.1" font-size="14.5" text-anchor="middle">case</text>
<text x="11.8" y="470.7" font-size="13" textLength="17.3" lengthAdjust="spacingAndGlyphs">(e)</text>
<text transform="translate(415.6 637.6) scale(1.1 1)" font-size="11.5" text-anchor="end">1</text>
<text transform="translate(415.6 601.38) scale(1.1 1)" font-size="11.5" text-anchor="end">1.5</text>
<text transform="translate(415.6 565.15) scale(1.1 1)" font-size="11.5" text-anchor="end">2</text>
<text transform="translate(415.6 528.92) scale(1.1 1)" font-size="11.5" text-anchor="end">2.5</text>
<text transform="translate(415.6 492.7) scale(1.1 1)" font-size="11.5" text-anchor="end">3</text>
<text transform="translate(432.51 652.9) scale(1.15 1)" font-size="11" text-anchor="middle">1</text>
<text transform="translate(451.33 652.9) scale(1.15 1)" font-size="11" text-anchor="middle">3</text>
<text transform="translate(470.15 652.9) scale(1.15 1)" font-size="11" text-anchor="middle">5</text>
<text transform="translate(488.97 652.9) scale(1.15 1)" font-size="11" text-anchor="middle">7</text>
<text transform="translate(507.79 652.9) scale(1.15 1)" font-size="11" text-anchor="middle">9</text>
<text transform="translate(526.62 652.9) scale(1.15 1)" font-size="11" text-anchor="middle">11</text>
<text transform="translate(545.44 652.9) scale(1.15 1)" font-size="11" text-anchor="middle">13</text>
<text transform="translate(564.26 652.9) scale(1.15 1)" font-size="11" text-anchor="middle">15</text>
<text transform="translate(583.08 652.9) scale(1.15 1)" font-size="11" text-anchor="middle">17</text>
<text transform="translate(601.91 652.9) scale(1.15 1)" font-size="11" text-anchor="middle">19</text>
<text transform="translate(620.73 652.9) scale(1.15 1)" font-size="11" text-anchor="middle">21</text>
<text transform="translate(639.55 652.9) scale(1.15 1)" font-size="11" text-anchor="middle">23</text>
<text transform="translate(658.37 652.9) scale(1.15 1)" font-size="11" text-anchor="middle">25</text>
<text transform="translate(677.19 652.9) scale(1.15 1)" font-size="11" text-anchor="middle">27</text>
<text x="554.8" y="676" font-size="14.5" text-anchor="middle">case</text>
<text x="378.4" y="472" font-size="13" textLength="15.3" lengthAdjust="spacingAndGlyphs">(f)</text>
<text transform="translate(24.9 117) rotate(-90)" font-size="14.3" textLength="26" lengthAdjust="spacingAndGlyphs">BMI</text>
<text transform="translate(24.2 81.4) rotate(-90)" font-size="13.3">(kg/m<tspan font-size="8.5" dy="-4.3">2</tspan><tspan dy="4.3">)</tspan></text>
<text transform="translate(382.5 119) rotate(-90)" font-size="14.5" textLength="27.4" lengthAdjust="spacingAndGlyphs">SMI</text>
<text transform="translate(382.3 80.5) rotate(-90)" font-size="13.5">(kg/m<tspan font-size="8.5" dy="-5">2</tspan><tspan dy="5">)</tspan></text>
<text transform="translate(15.3 392.3) rotate(-90)" font-size="14.5" textLength="118.8" lengthAdjust="spacingAndGlyphs">handgrip strength</text>
<text transform="translate(31 373.6) rotate(-90)" font-size="15" textLength="80.3" lengthAdjust="spacingAndGlyphs">in dominant</text>
<text transform="translate(27.9 287.3) rotate(-90)" font-size="12.2" textLength="21.2" lengthAdjust="spacingAndGlyphs">(kg)</text>
<text transform="translate(383.5 372.3) rotate(-90)" font-size="14.5" textLength="87.5" lengthAdjust="spacingAndGlyphs">two step test</text>
<text transform="translate(12.1 580.6) rotate(-90)" font-size="14.5" textLength="45.5" lengthAdjust="spacingAndGlyphs">normal</text>
<text transform="translate(27.1 590.9) rotate(-90)" font-size="14.5" textLength="66.8" lengthAdjust="spacingAndGlyphs">gait speed</text>
<text transform="translate(26 517.3) rotate(-90)" font-size="12.2" textLength="27.2" lengthAdjust="spacingAndGlyphs">(m/s)</text>
<text transform="translate(375 599.3) rotate(-90)" font-size="14.5" textLength="64.5" lengthAdjust="spacingAndGlyphs">maximum</text>
<text transform="translate(390 601.6) rotate(-90)" font-size="14.5" textLength="66.8" lengthAdjust="spacingAndGlyphs">gait speed</text>
<text transform="translate(389 527.3) rotate(-90)" font-size="11.8" textLength="26.6" lengthAdjust="spacingAndGlyphs">(m/s)</text>
<text transform="translate(92.5 727.2) scale(1.065 1)" font-size="15.8" text-anchor="end">4.75</text>
<text transform="translate(92.5 783.7) scale(1.065 1)" font-size="15.8" text-anchor="end">4.50</text>
<text transform="translate(92.5 840.2) scale(1.065 1)" font-size="15.8" text-anchor="end">4.25</text>
<text transform="translate(92.5 896.7) scale(1.065 1)" font-size="15.8" text-anchor="end">4.00</text>
<text transform="translate(92.5 953.2) scale(1.065 1)" font-size="15.8" text-anchor="end">3.75</text>
<text transform="translate(157.2 978.4) scale(1.06 1)" font-size="15.6" text-anchor="middle">6.0</text>
<text transform="translate(225.35 978.4) scale(1.06 1)" font-size="15.6" text-anchor="middle">6.5</text>
<text transform="translate(293.5 978.4) scale(1.06 1)" font-size="15.6" text-anchor="middle">7.0</text>
<text x="141.3" y="993.8" font-size="16" textLength="142" lengthAdjust="spacingAndGlyphs">Shannon &#945; diversity</text>
<text transform="translate(53.4 854.4) rotate(-90)" font-size="16.5" textLength="28" lengthAdjust="spacingAndGlyphs">CVI</text>
<text y="947.9" font-size="18" font-style="italic"><tspan x="247.7">r</tspan><tspan x="258.2">=</tspan><tspan x="272.7">.</tspan><tspan x="277.2">5</tspan><tspan x="286.8">9</tspan><tspan x="297.3" font-size="23" dy="2.4">*</tspan><tspan x="307.9" font-size="23">*</tspan></text>
<text x="10.3" y="716.6" font-size="12.8" textLength="16.8" lengthAdjust="spacingAndGlyphs">(g)</text>
<text transform="translate(461.6 763.2) scale(1.065 1)" font-size="15.8" text-anchor="end">4.50</text>
<text transform="translate(461.6 826.4) scale(1.065 1)" font-size="15.8" text-anchor="end">4.25</text>
<text transform="translate(461.6 889.6) scale(1.065 1)" font-size="15.8" text-anchor="end">4.00</text>
<text transform="translate(461.6 952.8) scale(1.065 1)" font-size="15.8" text-anchor="end">3.75</text>
<text transform="translate(513.3 972.6) scale(1.06 1)" font-size="15.6" text-anchor="middle">80</text>
<text transform="translate(570.5 972.6) scale(1.06 1)" font-size="15.6" text-anchor="middle">90</text>
<text transform="translate(627.7 972.6) scale(1.06 1)" font-size="15.6" text-anchor="middle">100</text>
<text x="483.8" y="991.4" font-size="16.5" textLength="179.2" lengthAdjust="spacingAndGlyphs">Resilience score (J&#8211;RS)</text>
<text transform="translate(422.5 848.1) rotate(-90)" font-size="16.5" textLength="28" lengthAdjust="spacingAndGlyphs">CVI</text>
<text y="942.8" font-size="18" font-style="italic"><tspan x="616.1">r</tspan><tspan x="626.2">=</tspan><tspan x="641.1">.</tspan><tspan x="645.3">4</tspan><tspan x="655.8">2</tspan><tspan x="667.1" font-size="23" dy="2.4">*</tspan></text>
<text x="379.3" y="719.0" font-size="12.8" textLength="17.6" lengthAdjust="spacingAndGlyphs">(h)</text>
</g>
</svg>
</body></html>
